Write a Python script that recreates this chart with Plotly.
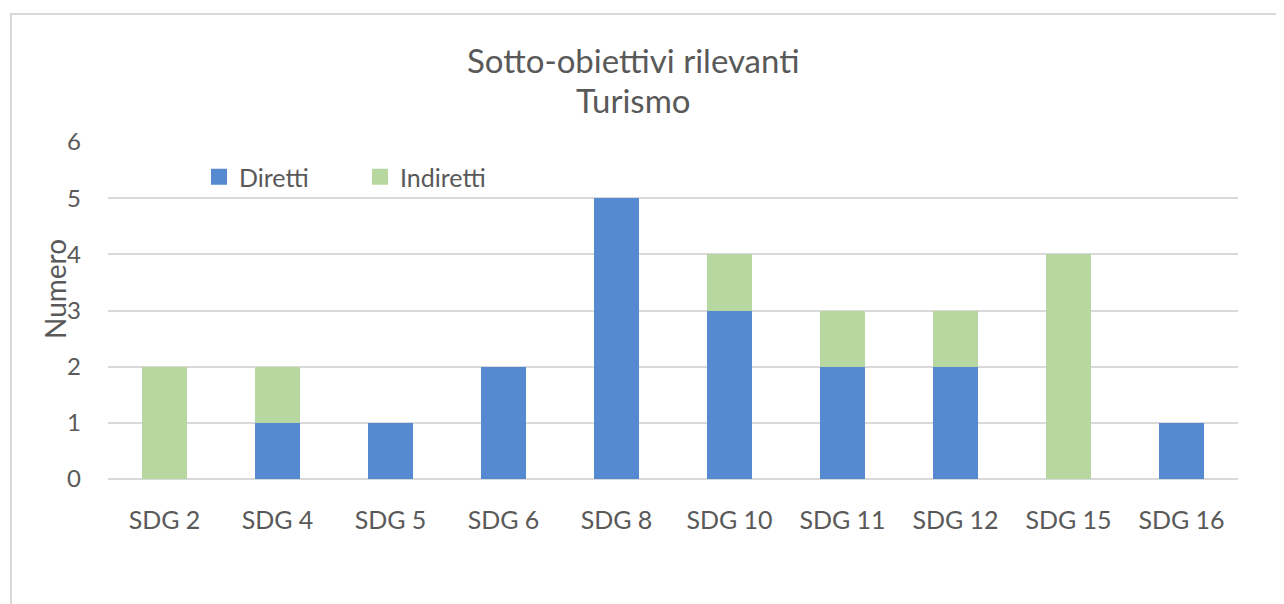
import plotly.graph_objects as go

categories = ["SDG 2", "SDG 4", "SDG 5", "SDG 6", "SDG 8", "SDG 10", "SDG 11", "SDG 12", "SDG 15", "SDG 16"]
diretti = [0, 1, 1, 2, 5, 3, 2, 2, 0, 1]
indiretti = [2, 1, 0, 0, 0, 1, 1, 1, 4, 0]

OFF = 8  # page body margin
W, H = 1284 - OFF, 604 - OFF
L, R, T, B = 108 - OFF, 1238 - OFF, 142 - OFF, 479 - OFF
PW, PH = R - L, B - T

def px_x(x):
    return (x - OFF - L) / PW

def px_y(y):
    return (B - (y - OFF)) / PH

FONT = "Lato"
TXT = "#595959"
BLUE = "#5589D0"
GREEN = "#B7D7A0"

fig = go.Figure()
fig.add_trace(go.Bar(x=categories, y=diretti, name="Diretti", showlegend=False,
                     marker=dict(color=BLUE, line=dict(width=0))))
fig.add_trace(go.Bar(x=categories, y=indiretti, name="Indiretti", showlegend=False,
                     marker=dict(color=GREEN, line=dict(width=0))))
# legend entries (square swatches)
for nm, col in (("Diretti", BLUE), ("Indiretti", GREEN)):
    fig.add_trace(go.Scatter(x=[None], y=[None], mode="markers", name=nm, hoverinfo="skip",
                             marker=dict(symbol="square", size=16, color=col)))

fig.update_layout(
    width=W, height=H,
    margin=dict(l=L, r=W - R, t=T, b=H - B, pad=0),
    barmode="stack", bargap=0.6,
    paper_bgcolor="white", plot_bgcolor="white",
    font=dict(family=FONT, color=TXT, size=22),
    showlegend=True,
    legend=dict(orientation="h", x=px_x(199), y=px_y(177), xanchor="left", yanchor="middle",
                font=dict(size=25, color=TXT), bgcolor="rgba(0,0,0,0)", traceorder="normal",
                entrywidth=116, itemwidth=30),
    xaxis=dict(showgrid=False, showline=False, ticks="", tickfont=dict(size=25, color=TXT),
               ticklabelstandoff=24),
    yaxis=dict(range=[0, 6], dtick=1, showgrid=True, gridcolor="#D9D9D9", gridwidth=2,
               zeroline=True, zerolinecolor="#D9D9D9", zerolinewidth=2, showline=False,
               ticks="", tickfont=dict(size=24, color=TXT), ticklabelstandoff=26),
    annotations=[
        dict(text="Sotto-obiettivi rilevanti", x=px_x(633), y=px_y(60), xref="paper", yref="paper",
             showarrow=False, font=dict(size=33, color=TXT, family=FONT), xanchor="center", yanchor="middle"),
        dict(text="Turismo", x=px_x(633), y=px_y(100), xref="paper", yref="paper",
             showarrow=False, font=dict(size=33, color=TXT, family=FONT), xanchor="center", yanchor="middle"),
        dict(text="Numero", x=px_x(55), y=px_y(289), xref="paper", yref="paper", textangle=-90,
             showarrow=False, font=dict(size=28, color=TXT, family=FONT), xanchor="center", yanchor="middle"),
    ],
    shapes=[
        dict(type="rect", xref="paper", yref="paper", x0=px_x(11), x1=px_x(1300), y0=px_y(620), y1=px_y(14),
             line=dict(color="#D9D9D9", width=2), fillcolor="rgba(0,0,0,0)", layer="below"),
    ],
)

fig.write_html("out.html")
